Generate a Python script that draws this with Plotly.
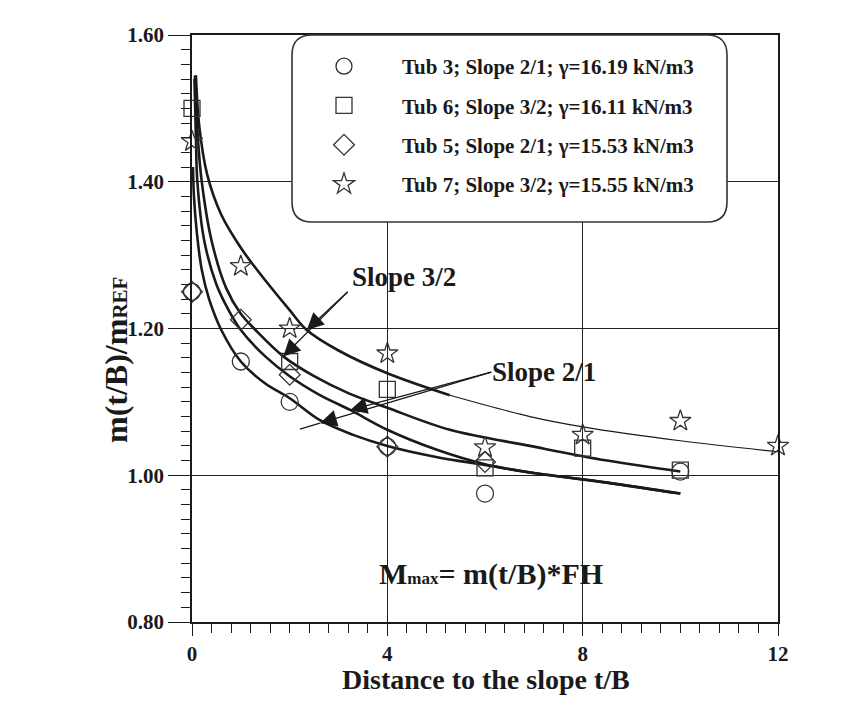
import plotly.graph_objects as go

# ---------------- data ----------------
tub3_x = [0, 1, 2, 4, 6, 10]
tub3_y = [1.25, 1.155, 1.10, 1.039, 0.975, 1.005]
tub6_x = [0, 2, 4, 6, 8, 10]
tub6_y = [1.50, 1.155, 1.117, 1.010, 1.037, 1.007]
tub5_x = [0, 1, 2, 4, 6]
tub5_y = [1.25, 1.212, 1.137, 1.039, 1.018]
tub7_x = [0, 1, 2, 4, 6, 8, 10, 12]
tub7_y = [1.455, 1.285, 1.20, 1.166, 1.038, 1.055, 1.074, 1.04]

# fitted curves (traced)
c1_x = [0.08, 0.15, 0.31, 0.6, 1.0, 1.33, 2.0, 2.35, 3.0, 4.0, 5.28]
c1_y = [1.545, 1.475, 1.41, 1.355, 1.31, 1.28, 1.225, 1.198, 1.17, 1.139, 1.109]
c1t_x = [5.28, 6.92, 8.0, 10.0, 12.0]
c1t_y = [1.109, 1.080, 1.066, 1.047, 1.032]
c2_x = [0.06, 0.12, 0.2, 0.4, 0.7, 1.0, 1.3, 1.87, 2.5, 3.2, 4.0, 5.28, 6.92, 8.5, 10.0]
c2_y = [1.545, 1.46, 1.40, 1.32, 1.255, 1.22, 1.198, 1.162, 1.135, 1.112, 1.092, 1.062, 1.040, 1.020, 1.005]
c3_x = [0.05, 0.08, 0.11, 0.25, 0.5, 0.75, 1.0, 1.5, 2.0, 2.6, 3.24, 4.0, 5.0, 6.0, 7.0, 8.5, 10.0]
c3_y = [1.54, 1.46, 1.40, 1.32, 1.26, 1.225, 1.198, 1.162, 1.135, 1.11, 1.089, 1.062, 1.035, 1.015, 1.003, 0.99, 0.975]
c4_x = [0.02, 0.04, 0.1, 0.2, 0.35, 0.6, 1.0, 1.5, 2.0, 2.62, 3.3, 4.0, 5.0, 6.0, 7.0, 8.5, 10.0]
c4_y = [1.42, 1.38, 1.33, 1.28, 1.24, 1.198, 1.155, 1.125, 1.105, 1.075, 1.055, 1.04, 1.025, 1.014, 1.003, 0.99, 0.975]

x_ticks = [0, 4, 8, 12]
y_ticks = [0.80, 1.00, 1.20, 1.40, 1.60]

labels = [
    "Tub 3; Slope 2/1; γ=16.19 kN/m3",
    "Tub 6; Slope 3/2; γ=16.11 kN/m3",
    "Tub 5; Slope 2/1; γ=15.53 kN/m3",
    "Tub 7; Slope 3/2; γ=15.55 kN/m3",
]

FONT = "Liberation Serif"
INK = "#1a1a1a"

fig = go.Figure()

for cx, cy, w in [(c1_x, c1_y, 2.6), (c1t_x, c1t_y, 1.2), (c2_x, c2_y, 2.6),
                  (c3_x, c3_y, 2.6), (c4_x, c4_y, 2.6)]:
    fig.add_trace(go.Scatter(x=cx, y=cy, mode="lines", showlegend=False,
                             line=dict(color=INK, width=w, shape="spline", smoothing=1.0),
                             hoverinfo="skip"))

series = [
    (tub3_x, tub3_y, "circle-open", 17),
    (tub6_x, tub6_y, "square-open", 16),
    (tub5_x, tub5_y, "diamond-open", 16),
    (tub7_x, tub7_y, "star-open", 16),
]
for i, (sx, sy, sym, sz) in enumerate(series):
    fig.add_trace(go.Scatter(
        x=sx, y=sy, mode="markers", name=labels[i], legendgroup=f"g{i}",
        marker=dict(symbol=sym, size=sz, color="#333333", line=dict(width=1.3, color="#333333")),
        cliponaxis=False))

axis_common = dict(
    showgrid=True, gridcolor="#222222", gridwidth=1,
    showline=True, linecolor=INK, linewidth=1.6, mirror=True,
    ticks="outside", tickcolor=INK, tickwidth=1.4,
    tickfont=dict(family=FONT, size=21, color=INK, weight="bold"),
    zeroline=False,
)

fig.update_xaxes(range=[0, 12], tickvals=x_ticks, ticklen=12,
                 minor=dict(dtick=0.4, tick0=0, ticks="outside", ticklen=9, tickcolor=INK,
                            tickwidth=1.2, showgrid=False),
                 **axis_common)
fig.update_yaxes(range=[0.8, 1.6], tickvals=y_ticks, tickformat=".2f", ticklen=22,
                 minor=dict(dtick=0.02, tick0=0.8, ticks="outside", ticklen=9, tickcolor=INK,
                            tickwidth=1.2, showgrid=False),
                 **axis_common)

# rounded legend box (paper coordinates)
def px_to_paper_x(px):
    return (px - 192) / 586.0

def px_to_paper_y(py):
    return (622 - py) / 587.0

x0, x1 = px_to_paper_x(292), px_to_paper_x(727)
y0, y1 = px_to_paper_y(222), px_to_paper_y(35)
rx, ry = 20 / 586.0, 20 / 587.0
path = (f"M {x0+rx},{y1} L {x1-rx},{y1} Q {x1},{y1} {x1},{y1-ry} "
        f"L {x1},{y0+ry} Q {x1},{y0} {x1-rx},{y0} L {x0+rx},{y0} "
        f"Q {x0},{y0} {x0},{y0+ry} L {x0},{y1-ry} Q {x0},{y1} {x0+rx},{y1} Z")
fig.add_shape(type="path", path=path, xref="paper", yref="paper",
              fillcolor="white", line=dict(color="#333333", width=1.6), layer="above")

# leader lines and arrows
arrow_kw = dict(showarrow=True, arrowhead=2, arrowsize=2.6, arrowwidth=1.3,
                arrowcolor=INK, text="", axref="x", ayref="y", xref="x", yref="y")
fig.add_annotation(x=2.35, y=1.198, ax=3.22, ay=1.252, **arrow_kw)
fig.add_annotation(x=1.87, y=1.162, ax=3.22, ay=1.252, **arrow_kw)
fig.add_annotation(x=3.24, y=1.089, ax=6.16, ay=1.141, **arrow_kw)
fig.add_annotation(x=2.62, y=1.071, ax=6.16, ay=1.141, **arrow_kw)
fig.add_shape(type="line", x0=2.62, y0=1.071, x1=2.21, y1=1.063, xref="x", yref="y",
              line=dict(color=INK, width=1.3))

txt_font = dict(family=FONT, size=27, color=INK, weight="bold")
fig.add_annotation(x=4.34, y=1.270, text="Slope 3/2", showarrow=False, font=txt_font)
fig.add_annotation(x=7.20, y=1.141, text="Slope 2/1", showarrow=False, font=txt_font)
fig.add_annotation(x=6.13, y=0.866, showarrow=False,
                   text="M<span style='font-size:17px'>max</span>= m(t/B)*FH",
                   font=dict(family=FONT, size=30, color=INK, weight="bold"))

# axis titles
fig.add_annotation(xref="paper", yref="paper", x=px_to_paper_x(486), y=px_to_paper_y(697),
                   text="Distance to the slope t/B", showarrow=False,
                   font=dict(family=FONT, size=28, color=INK, weight="bold"))
fig.add_annotation(xref="paper", yref="paper", x=px_to_paper_x(96), y=px_to_paper_y(360),
                   text="m(t/B)/m<span style='font-size:21px'>REF</span>", showarrow=False,
                   textangle=-90,
                   font=dict(family=FONT, size=32, color=INK, weight="bold"))

fig.update_layout(
    width=851, height=717,
    margin=dict(l=192, r=73, t=35, b=95),
    paper_bgcolor="white", plot_bgcolor="white",
    showlegend=True,
    legend=dict(x=px_to_paper_x(286), y=px_to_paper_y(46), xanchor="left", yanchor="top",
                bgcolor="rgba(0,0,0,0)", borderwidth=0, itemwidth=106,
                tracegroupgap=9,
                font=dict(family=FONT, size=21, color=INK, weight="bold")),
)

fig.write_html("out.html")
